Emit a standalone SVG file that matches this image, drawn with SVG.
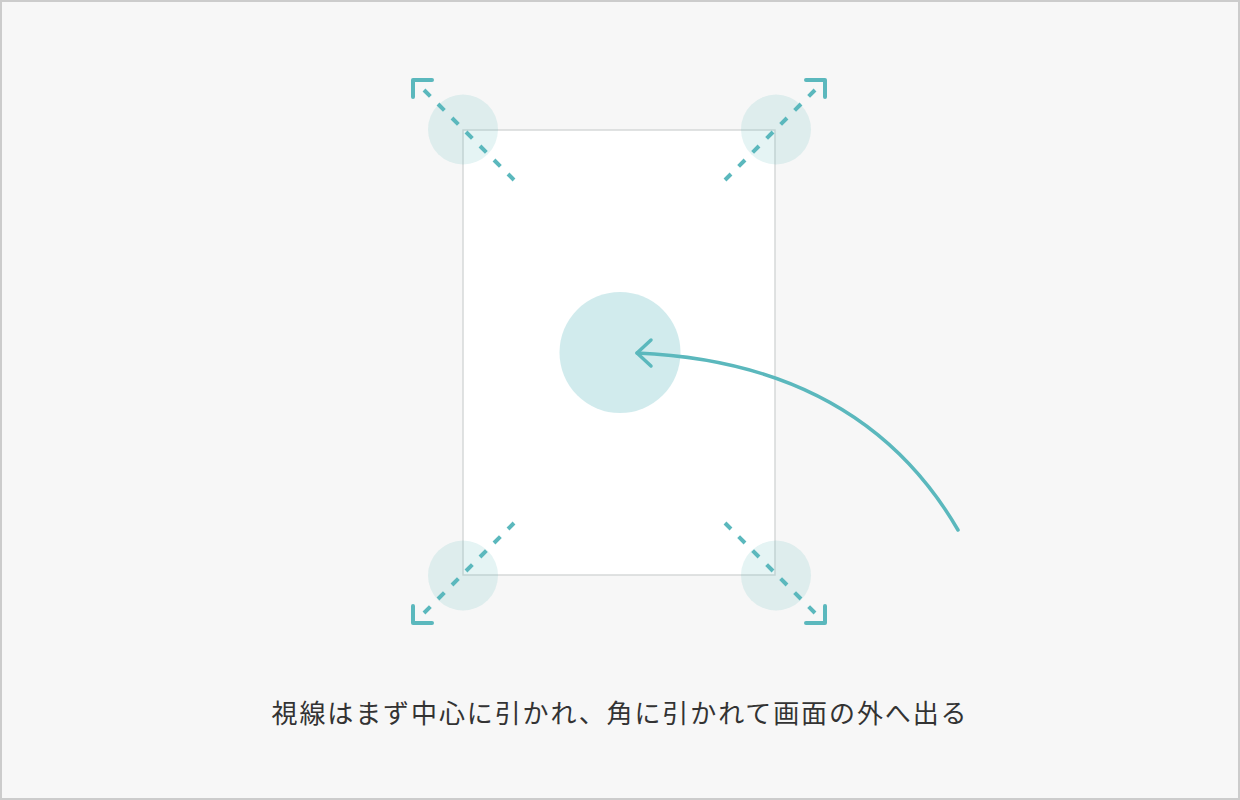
<svg xmlns="http://www.w3.org/2000/svg" width="1240" height="800" viewBox="0 0 1240 800">
<defs>
<style>
.dash{stroke:#5bb8bd;stroke-width:4;stroke-dasharray:9 10.8;fill:none}
.br{stroke:#5bb8bd;stroke-width:4;fill:none;stroke-linecap:round;stroke-linejoin:round}
.cc{fill:#5bb8bd;fill-opacity:0.16}
.lbl{font-family:"Noto Sans CJK JP","Noto Sans",sans-serif;font-size:26px;fill:#333333}
</style>
</defs>
<rect x="1" y="1" width="1238" height="798" fill="#f7f7f7" stroke="#cccccc" stroke-width="2"/>
<g id="frame">
<rect x="463" y="130" width="312" height="445" fill="#ffffff" stroke="#d6d9d9" stroke-width="1.5"/>
</g>
<g id="center">
<circle cx="620" cy="352.5" r="60.5" fill="#5bb8bd" fill-opacity="0.28"/>
</g>
<g id="corner-tl">
<circle class="cc" cx="463" cy="129.5" r="35"/>
<line class="dash" x1="424" y1="90" x2="514" y2="180"/>
<path class="br" d="M413 97 L413 80 L432 80"/>
</g>
<g id="corner-tr">
<circle class="cc" cx="776" cy="129.5" r="35"/>
<line class="dash" x1="815" y1="90" x2="725" y2="180"/>
<path class="br" d="M806 80 L825 80 L825 97"/>
</g>
<g id="corner-bl">
<circle class="cc" cx="463" cy="575.5" r="35"/>
<line class="dash" x1="424" y1="613" x2="514" y2="523"/>
<path class="br" d="M413 606 L413 623 L432 623"/>
</g>
<g id="corner-br">
<circle class="cc" cx="776" cy="575.5" r="35"/>
<line class="dash" x1="815" y1="613" x2="725" y2="523"/>
<path class="br" d="M806 623 L825 623 L825 606"/>
</g>
<g id="connectors">
<path d="M958 530 C900 430 800 360 637 353" fill="none" stroke="#5bb8bd" stroke-width="3.5" stroke-linecap="round"/>
<path d="M651 340 L637 353 L651 366" fill="none" stroke="#5bb8bd" stroke-width="3.5" stroke-linecap="round" stroke-linejoin="round"/>
</g>
<g id="caption">
<text class="lbl" x="620" y="723" text-anchor="middle" letter-spacing="1.9">視線はまず中心に引かれ、角に引かれて画面の外へ出る</text>
</g>
</svg>
